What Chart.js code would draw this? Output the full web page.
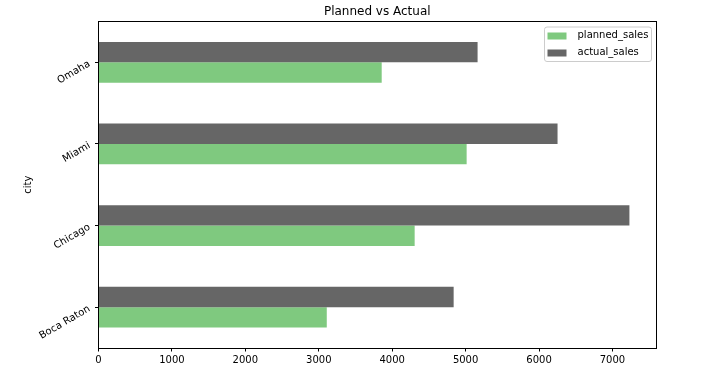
<!DOCTYPE html>
<html><head><meta charset="utf-8">
<script src="https://cdn.jsdelivr.net/npm/chart.js@4.4.0/dist/chart.umd.min.js"></script>
<style>html,body{margin:0;padding:0;background:#fff}#wrap{width:728px;height:383px}</style>
</head><body><div id="wrap"><canvas id="c" width="728" height="383"></canvas></div>
<script>
const categories = ['Boca Raton', 'Chicago', 'Miami', 'Omaha'];
const plannedSales = [3109, 4306, 5014, 3857];
const actualSales = [4837, 7231, 6252, 5163];
const xTickValues = [0, 1000, 2000, 3000, 4000, 5000, 6000, 7000];
const xMax = 7593;

const FONT = 'DejaVu Sans';
const GREEN = '#7fc97f';
const GRAY = '#666666';

const framePlugin = {
  id: 'frame',
  afterDatasetsDraw(chart) {
    const a = chart.chartArea, ctx = chart.ctx;
    ctx.save();
    ctx.strokeStyle = '#000';
    ctx.lineWidth = 1;
    const l = Math.round(a.left) - 0.5, t = Math.round(a.top) - 0.5;
    const r = Math.round(a.right) + 0.5, b = Math.round(a.bottom) + 0.5;
    ctx.strokeRect(l, t, r - l, b - t);
    ctx.restore();
  }
};

const yLabelPlugin = {
  id: 'ylabels',
  afterDraw(chart) {
    const ctx = chart.ctx, ys = chart.scales.y, a = chart.chartArea;
    ctx.save();
    ctx.font = '10px "' + FONT + '"';
    ctx.fillStyle = '#000';
    ctx.textAlign = 'right';
    ctx.textBaseline = 'middle';
    const ang = 30 * Math.PI / 180;
    const rightX = a.left - 9;
    chart.data.labels.forEach((lab, i) => {
      const y = ys.getPixelForTick(i) + 1;
      ctx.save();
      ctx.translate(rightX, y);
      ctx.rotate(-ang);
      ctx.fillText(lab, 0, 0);
      ctx.restore();
    });
    ctx.restore();
  }
};

const legendPlugin = {
  id: 'customLegend',
  afterDraw(chart) {
    const ctx = chart.ctx, a = chart.chartArea;
    const items = [
      { text: chart.data.datasets[1].label, color: chart.data.datasets[1].backgroundColor },
      { text: chart.data.datasets[0].label, color: chart.data.datasets[0].backgroundColor }
    ];
    const right = a.right - 5, top = a.top + 5;
    const width = 107, height = 34.5;
    const left = right - width;
    ctx.save();
    ctx.beginPath();
    if (ctx.roundRect) ctx.roundRect(left + 0.5, top + 0.5, width, height, 2.5);
    else ctx.rect(left + 0.5, top + 0.5, width, height);
    ctx.fillStyle = 'rgba(255,255,255,0.8)';
    ctx.fill();
    ctx.strokeStyle = '#cccccc';
    ctx.lineWidth = 1;
    ctx.stroke();
    ctx.font = '10px "' + FONT + '"';
    ctx.textAlign = 'left';
    ctx.textBaseline = 'middle';
    items.forEach((it, i) => {
      const cy = top + 9 + i * 17;
      ctx.fillStyle = it.color;
      ctx.fillRect(left + 3.5, cy - 3, 19, 7);
      ctx.fillStyle = '#000';
      ctx.fillText(it.text, left + 33.5, cy);
    });
    ctx.restore();
  }
};

new Chart(document.getElementById('c'), {
  type: 'bar',
  data: {
    labels: categories,
    datasets: [
      { label: 'actual_sales', data: actualSales, backgroundColor: GRAY, borderWidth: 0,
        categoryPercentage: 0.5, barPercentage: 1.0 },
      { label: 'planned_sales', data: plannedSales, backgroundColor: GREEN, borderWidth: 0,
        categoryPercentage: 0.5, barPercentage: 1.0 }
    ]
  },
  options: {
    indexAxis: 'y',
    responsive: false,
    animation: false,
    devicePixelRatio: 1,
    layout: { padding: { left: 18, right: 72, top: 0, bottom: 0 } },
    plugins: {
      legend: { display: false },
      tooltip: { enabled: false },
      title: {
        display: true, text: 'Planned vs Actual', color: '#000', fullSize: false,
        font: { family: FONT, size: 12, weight: 'normal' },
        padding: { top: 5, bottom: 2.1 }
      }
    },
    scales: {
      x: {
        type: 'linear', min: 0, max: xMax,
        afterBuildTicks(scale) {
          scale.ticks = xTickValues.map(v => ({ value: v }));
        },
        afterFit(scale) { scale.height = 35; },
        border: { display: false },
        grid: { drawOnChartArea: false, drawTicks: true, tickLength: 3.5, color: '#000', lineWidth: 1 },
        ticks: {
          color: '#000', padding: 3, maxRotation: 0, autoSkip: false,
          font: { family: FONT, size: 10 },
          callback: v => String(v)
        }
      },
      y: {
        type: 'category', reverse: true, offset: true,
        afterFit(scale) { scale.width = 80.5; },
        border: { display: false },
        grid: { drawOnChartArea: false, drawTicks: true, tickLength: 3.5, color: '#000', lineWidth: 1, offset: false },
        ticks: { display: false },
        title: {
          display: true, text: 'city', color: '#000',
          font: { family: FONT, size: 10 }, padding: { top: 4, bottom: 4 }
        }
      }
    }
  },
  plugins: [framePlugin, yLabelPlugin, legendPlugin]
});
</script>
</body></html>
